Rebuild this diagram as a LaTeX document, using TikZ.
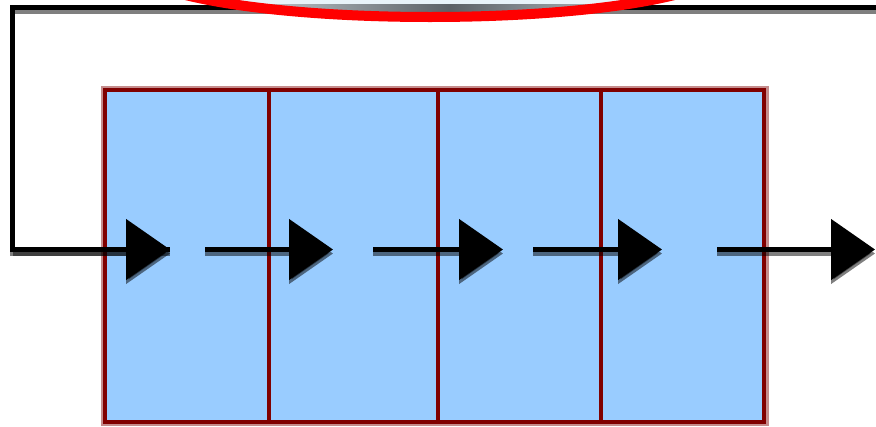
\documentclass[tikz,border=0pt]{standalone}
\usetikzlibrary{arrows.meta}
\definecolor{boxfill}{HTML}{99CCFF}
\definecolor{boxline}{HTML}{800000}
\definecolor{lensfill}{HTML}{E8F3F9}
\definecolor{lensdark}{HTML}{5C6166}
\tikzset{
  cell/.style={draw=boxline, line width=4pt, fill=boxfill, inner sep=0pt, outer sep=0pt,
    minimum height=331.5pt},
  halo/.style={draw=boxline, line width=9pt, draw opacity=0.45},
  flow/.style={draw=black, line width=5pt, -{Triangle[length=44pt,width=60pt]}},
  flowshadow/.style={draw=black, line width=5pt, opacity=0.5, -{Triangle[length=44pt,width=60pt]},
    transform canvas={yshift=-4pt}},
  loopline/.style={draw=black, line width=5pt, line join=miter},
  loopshadow/.style={draw=black, line width=5pt, opacity=0.5, transform canvas={yshift=-4pt}},
}
\begin{document}
\begin{tikzpicture}[x=1pt,y=-1pt]
\useasboundingbox (0,0) rectangle (876,426);
\clip (0,0) rectangle (876,426);
\fill[white] (0,0) rectangle (876,426);
% halos of the cells
\draw[halo] (105,90) rectangle (764,421.5);
\foreach \xx in {268.5,438,601} \draw[halo] (\xx,90) -- (\xx,421.5);
% cells
\node[cell, minimum width=163.5pt] (b1) at (186.75,255.75) {};
\node[cell, minimum width=169.5pt] (b2) at (353.25,255.75) {};
\node[cell, minimum width=163pt]   (b3) at (519.5,255.75) {};
\node[cell, minimum width=163pt]   (b4) at (682.5,255.75) {};
% arrow coordinates
\coordinate (r) at (878,249.5);
\coordinate (rt) at (878,7);
\coordinate (lt) at (12.5,7);
\coordinate (lb) at (12.5,249.5);
\coordinate (e1) at (170,249.5);
\coordinate (s2) at (205,249.5);
\coordinate (e2) at (333,249.5);
\coordinate (s3) at (373,249.5);
\coordinate (e3) at (503,249.5);
\coordinate (s4) at (533,249.5);
\coordinate (e4) at (662,249.5);
\coordinate (s5) at (717,249.5);
\coordinate (e5) at (875,249.5);
% shadows
\draw[loopshadow] (r) -- (rt) -- (lt) -- (lb) -- (e1);
\draw[flowshadow] (lb) -- (e1);
\draw[flowshadow] (s2) -- (e2);
\draw[flowshadow] (s3) -- (e3);
\draw[flowshadow] (s4) -- (e4);
\draw[flowshadow] (s5) -- (e5);
% lines
\draw[loopline] (r) -- (rt) -- (lt) -- (lb) -- (e1);
\draw[flow] (lb) -- (e1);
\draw[flow] (s2) -- (e2);
\draw[flow] (s3) -- (e3);
\draw[flow] (s4) -- (e4);
\draw[flow] (s5) -- (e5);
% lens at the top
\begin{scope}
\clip (430,-34) ellipse [x radius=295, y radius=50];
\fill[lensfill] (130,-90) rectangle (730,20);
\shade[left color=lensfill, right color=lensfill, middle color=lensdark] (170,4) rectangle (730,12);
\end{scope}
\draw[red, line width=10pt] (430,-33) ellipse [x radius=295, y radius=50];
\end{tikzpicture}
\end{document}
